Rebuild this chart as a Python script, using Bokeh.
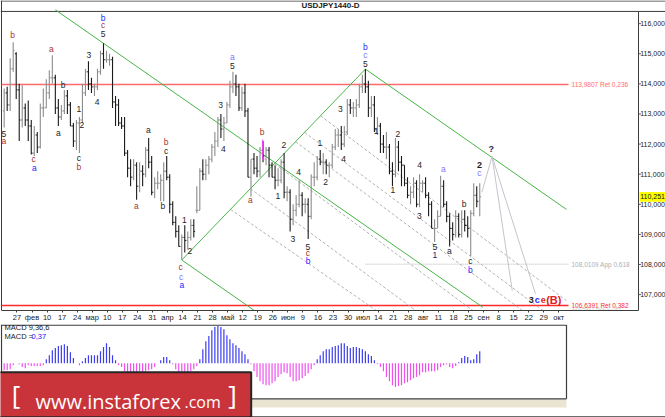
import numpy as np
import pandas as pd
from bokeh.plotting import figure
from bokeh.models import Range1d, FixedTicker, ColumnDataSource
from bokeh.layouts import column
from bokeh.embed import file_html
from bokeh.resources import INLINE
from bokeh.core.properties import value

# ---------------------------------------------------------------- data
trade_days = pd.bdate_range("2017-01-24", "2017-09-01")      # daily bars
day_k = np.arange(len(trade_days)) - 3                          # 27 Jan 2017 -> 0

bar_open = [113.10,113.70,113.30,114.50,115.00,113.80,112.80,113.20,112.80,112.60,111.70,112.30,111.90,113.20,
    113.20,113.70,114.20,114.20,113.20,112.90,113.10,113.60,113.30,112.60,112.10,112.70,112.80,113.70,
    114.40,114.00,113.90,113.90,114.40,115.00,114.80,114.80,114.80,113.40,113.30,112.70,112.60,111.70,
    111.20,110.90,111.30,110.60,111.10,111.00,111.80,111.40,110.40,110.70,110.70,110.80,111.10,110.90,
    110.00,109.40,109.10,108.60,108.90,108.80,108.90,109.30,109.80,109.80,111.10,111.00,111.30,111.50,
    111.90,112.10,112.80,112.50,112.70,113.30,113.90,114.00,113.90,113.20,113.70,113.10,110.90,111.50,
    111.20,111.10,111.80,111.60,111.80,111.30,110.90,110.80,110.80,111.40,110.40,110.40,109.50,109.80,
    110.00,110.30,110.00,110.00,109.60,110.90,110.90,111.50,111.40,111.40,111.30,111.30,111.90,112.30,
    112.30,112.00,112.40,113.30,113.20,113.20,113.30,113.90,114.00,113.90,113.20,113.30,112.50,112.60,
    112.00,111.90,111.90,111.10,111.00,111.90,111.40,111.30,110.70,110.30,110.40,110.70,110.00,110.70,
    110.70,110.30,110.00,109.20,109.20,109.60,110.60,110.00,109.60,109.20,109.00,109.60,109.00,109.50,
    109.30,109.20,109.70,110.30,110.10]
bar_high = [113.85,113.90,114.85,115.38,115.05,114.00,113.95,113.35,113.45,112.80,112.60,112.40,113.35,113.85,
    114.15,114.45,114.95,114.30,113.50,113.30,113.80,113.80,113.40,112.70,112.80,112.90,114.00,114.50,
    114.75,114.20,114.00,114.50,115.10,115.35,115.10,115.00,114.90,113.60,113.50,112.90,112.90,111.80,
    111.50,111.50,111.40,111.40,111.30,111.90,112.20,111.60,110.90,111.10,111.00,111.40,111.60,111.00,
    110.10,109.60,109.30,109.00,109.30,109.10,109.50,109.50,110.60,111.20,111.50,111.50,111.60,112.00,
    112.40,112.90,113.00,112.90,113.40,114.10,114.40,114.30,114.00,113.90,114.00,113.20,111.50,111.70,
    111.60,111.90,112.10,111.90,111.90,111.40,111.30,111.20,111.50,111.70,110.60,110.50,110.00,110.30,
    110.80,110.40,110.20,110.20,111.00,111.40,111.60,111.80,111.70,111.50,111.40,112.00,112.50,112.50,
    112.60,112.60,113.50,113.50,113.40,113.50,114.00,114.30,114.49,114.10,113.60,113.60,112.90,112.70,
    112.30,112.40,112.00,111.40,112.20,112.10,111.60,111.30,110.90,110.60,110.90,110.80,111.00,110.80,
    110.90,110.40,110.10,109.50,109.80,110.95,110.80,110.10,109.70,109.40,109.80,109.70,109.80,109.80,
    109.60,109.80,110.70,110.60,110.70]
bar_low = [112.55,113.10,113.10,114.40,113.50,112.10,112.55,112.60,112.10,111.65,111.60,111.70,111.85,112.90,
    113.20,113.50,114.00,113.00,112.60,112.80,113.00,113.00,112.60,111.90,111.80,111.70,112.70,113.60,
    113.80,113.70,113.60,113.80,114.30,114.50,114.70,114.60,113.20,112.60,112.60,112.50,111.60,110.90,
    110.60,110.80,110.15,110.40,110.60,110.90,111.20,110.30,110.20,110.50,110.10,110.10,110.80,109.70,
    109.30,108.90,108.60,108.15,108.40,108.50,108.80,108.90,109.70,109.80,110.80,110.80,111.00,111.40,
    111.60,111.90,112.20,112.10,112.70,113.20,113.70,113.60,113.10,113.10,112.90,110.90,110.25,111.00,
    110.90,110.90,111.40,111.30,110.90,110.90,110.50,110.60,110.70,110.20,110.10,109.10,109.30,109.60,
    109.90,109.60,109.70,108.85,109.50,110.60,110.80,111.30,111.00,111.00,110.90,111.20,111.80,111.90,
    111.80,111.90,112.30,113.00,112.90,112.90,113.20,113.70,113.70,112.90,112.90,112.40,112.30,111.70,
    111.70,111.50,111.00,110.60,110.90,111.10,110.60,110.60,110.20,110.00,110.20,109.90,109.90,110.40,
    110.20,109.60,109.20,108.75,109.20,109.60,109.90,109.40,108.60,108.80,108.90,108.90,108.90,109.10,
    108.90,108.27,109.60,109.90,109.60]
bar_close = [113.70,113.30,114.50,115.10,113.80,112.80,113.20,112.80,112.60,111.70,112.30,111.90,113.20,113.20,
    113.70,114.20,114.20,113.20,112.90,113.10,113.60,113.30,112.60,112.10,112.70,112.80,113.70,114.40,
    114.00,113.90,113.90,114.40,115.00,114.80,114.80,114.80,113.40,113.30,112.70,112.60,111.70,111.20,
    110.90,111.30,110.60,111.10,111.00,111.80,111.40,110.40,110.70,110.70,110.80,111.10,110.90,110.00,
    109.40,109.10,108.60,108.90,108.80,108.90,109.30,109.10,109.80,111.10,111.00,111.30,111.50,111.90,
    112.10,112.80,112.50,112.70,113.30,113.90,114.00,113.90,113.20,113.70,113.10,110.90,111.50,111.20,
    111.10,111.80,111.60,111.80,111.30,110.90,110.80,110.80,111.40,110.40,110.40,109.50,109.80,110.00,
    110.30,110.00,110.00,109.60,110.90,110.90,111.50,111.40,111.40,111.30,111.30,111.90,112.30,112.30,
    112.00,112.40,113.30,113.20,113.20,113.30,113.90,114.00,113.90,113.20,113.30,112.50,112.60,112.00,
    111.90,111.90,111.10,111.00,111.90,111.40,111.30,110.70,110.30,110.40,110.70,110.00,110.70,110.70,
    110.30,110.00,109.20,109.20,109.60,110.60,110.00,109.60,109.20,109.00,109.60,109.00,109.50,109.30,
    109.20,109.70,110.30,110.10,110.25]

macd_hist = [-0.22,-0.22,-0.19,-0.06,0.00,-0.03,-0.12,-0.16,-0.06,-0.09,-0.09,-0.09,-0.09,-0.06,
    0.12,0.25,0.40,0.47,0.53,0.56,0.59,0.53,0.34,0.16,
    0.00,-0.06,0.06,0.16,0.25,0.25,0.25,0.25,0.37,0.50,0.62,0.50,0.25,0.09,
    -0.06,-0.12,-0.25,-0.28,-0.28,-0.28,-0.28,-0.25,-0.28,-0.25,-0.22,-0.19,-0.12,
    0.00,0.09,0.19,0.19,0.09,
    -0.03,-0.19,-0.28,-0.28,-0.28,-0.28,-0.25,-0.19,-0.09,
    0.12,0.43,0.68,0.84,1.02,1.12,1.15,1.12,1.05,0.87,0.74,0.62,0.56,0.47,0.37,0.28,0.12,
    -0.03,-0.25,-0.43,-0.56,-0.65,-0.68,-0.68,-0.62,-0.56,-0.43,-0.34,-0.28,-0.31,-0.43,-0.56,-0.56,
    -0.53,-0.47,-0.40,-0.31,-0.19,-0.06,
    0.12,0.25,0.37,0.43,0.43,0.50,0.53,0.56,0.62,0.62,0.53,0.47,0.50,0.50,0.47,0.43,0.37,0.28,0.22,0.09,
    -0.03,-0.12,-0.25,-0.43,-0.56,-0.68,-0.74,-0.71,-0.68,-0.62,-0.59,-0.53,-0.47,-0.43,-0.37,-0.28,
    -0.28,-0.25,-0.25,-0.25,-0.22,-0.12,-0.06,-0.03,-0.12,-0.16,-0.09,
    0.03,0.16,0.22,0.19,0.09,0.12,0.28,0.37]

# weekly (Friday) ticks, bar index of each Friday, Russian labels
tick_k = list(range(0, 181, 5))
tick_labels = ["27","фев","10","17","24","мар","10","17","24","31","апр","14","21","28",
               "май","12","19","26","июн","9","16","23","30","июл","14","21","28",
               "авг","11","18","25","сен","8","15","22","29","окт"]

price_ticks = [107, 108, 109, 110, 111, 112, 113, 114, 115, 116]
price_tick_labels = ["107,000","108,000","109,000","110,000","111,000","112,000",
                     "113,000","114,000","115,000","116,000"]
last_price = 110.251
last_price_label = "110,251"

# Fibonacci levels
ret_levels = [113.9807, 106.6391]
ret_texts = ["113,9807 Ret 0,236", "106,6391 Ret 0,382"]
ret_colors = ["#ff6a6a", "#ff2a2a"]
app_level = 108.0109
app_text = "108,0109 App 0,618"
app2_level = 106.4917
app2_text = "106,4917 App 0,764"

# channel lines (bar index, price)
green_k0 = [14.0, 56.0, 56.0, 117.0]
green_p0 = [116.46, 108.15, 108.15, 114.49]
green_k1 = [156.0, 81.0, 117.0, 183.8]
green_p1 = [106.58, 106.41, 114.49, 109.83]

dash_k0 = [72.2, 78.8, 86.8, 93.8, 96.8, 102.1]
dash_p0 = [109.83, 110.52, 111.35, 112.08, 112.39, 112.94]
dash_k1 = [183.8, 183.8, 183.8, 183.8, 183.8, 183.8]
dash_p1 = [102.09, 102.78, 104.17, 105.38, 105.89, 106.80]

proj_k0 = [155.7, 159.1, 159.1]
proj_p0 = [110.40, 111.59, 111.59]
proj_k1 = [159.1, 165.8, 173.5]
proj_p1 = [111.59, 107.13, 107.03]

# highlighted bar
mark_k = 82.9
mark_hi = 112.15
mark_lo = 111.50

# wave labels
K, R, B, L, N = "#1e1e1e", "#a8352e", "#2626ff", "#7a7aff", "#1a1a7a"
wave_text = ["5","a","b","c","a","a","b","a","1","2","c","b","3","4","5","c","b",
             "a","a","b","c","b","1","2","c","c","a","a","5","3","4",
             "b","a","2","1","4","3","5","c","b","1","2","3","4",
             "b","c","5","1","2","1","4","3","a","5","1","a","b","c","b","c"]
wave_k = [-3.1,-3.1,-0.2,6.8,7.0,12.7,16.6,15.0,21.8,22.8,21.8,21.8,25.1,27.9,29.9,29.9,29.9,
          44.9,40.9,50.8,50.8,49.7,56.9,58.7,55.6,55.8,56.0,72.8,72.8,68.9,69.8,
          82.7,78.8,89.9,87.9,94.8,92.9,97.9,97.9,98.0,101.9,103.8,108.7,109.8,
          117.0,117.0,117.0,120.6,127.8,126.1,135.0,134.9,142.9,140.1,140.1,144.9,149.8,151.9,151.9,154.9]
wave_p = [112.32,112.09,115.62,111.49,111.21,115.17,113.96,112.37,113.18,112.62,111.55,111.25,114.95,113.41,115.67,115.97,116.18,
          112.46,109.95,112.06,111.76,109.93,109.49,108.44,107.91,107.57,107.31,114.90,114.60,113.30,111.82,
          112.40,110.15,111.96,110.28,111.08,108.85,108.59,108.39,108.11,112.02,110.73,113.16,111.51,
          115.23,114.95,114.65,112.45,112.35,110.48,111.32,109.62,111.16,108.57,108.32,108.46,110.00,108.10,107.83,111.03]
wave_color = [K,R,R,R,B,R,K,K,K,K,K,R,K,K,K,R,B,
              K,R,R,K,K,K,K,R,L,B,L,K,K,K,
              R,R,K,K,K,K,K,R,B,K,K,K,K,
              B,L,K,K,K,K,K,K,L,K,N,K,K,K,B,L]

bold_text = ["2", "?", "3", "c", "e"]
bold_k = [154.9, 158.8, 172.1, 174.1, 176.1]
bold_p = [111.32, 111.84, 106.81, 106.81, 106.81]
bold_color = [K, "#2a2a55", K, B, "#e02020"]
big_text = "(B)"
big_k = 179.6
big_p = 106.83

# ---------------------------------------------------------------- layout constants
W = 665
PX_PER_BAR = 3.01
X0_PX = 12.7                     # canvas x of bar 0
K_LEFT = -X0_PX / PX_PER_BAR
K_RIGHT = (W - X0_PX) / PX_PER_BAR
def k_at(px):
    return (px - X0_PX) / PX_PER_BAR

AXIS_K = k_at(638.0)
EDGE_K = k_at(1.0)
LEVEL_END_K = k_at(568.0)
LEVEL_TXT_K = k_at(571.0)
PANEL_RIGHT_K = k_at(566.0)
P_TOP, P_BOT = 116.769, 106.472          # price at canvas y = 0 and y = 312
P_LINE = 116.406                          # chart top line (y = 11)
P_EDGE = 116.752                          # window edge (y = 0.5)
FONT = value("Liberation Sans")

x_rng = Range1d(K_LEFT, K_RIGHT)

# ---------------------------------------------------------------- price panel
p = figure(width=W, height=324, x_range=x_rng, y_range=Range1d(P_BOT, P_TOP),
           output_backend="svg", toolbar_location=None, y_axis_location=None,
           min_border_left=0, min_border_right=0, min_border_top=0, min_border_bottom=12)
p.grid.grid_line_color = None
p.outline_line_color = None
p.background_fill_color = "white"
p.border_fill_color = "white"

ax = p.xaxis[0]
tick_pos = [k + 1.25 for k in tick_k]
ax.ticker = FixedTicker(ticks=tick_pos)
ax.major_label_overrides = {t: lab for t, lab in zip(tick_pos, tick_labels)}
ax.bounds = (EDGE_K, AXIS_K)
ax.minor_tick_line_color = None
ax.major_tick_in = 0
ax.major_tick_out = 2
ax.major_label_standoff = 0
ax.major_label_text_font_size = "7.5px"
ax.major_label_text_font = "Liberation Sans"
ax.major_label_text_color = "#222222"
ax.axis_line_color = "#3c3c3c"
ax.major_tick_line_color = "#3c3c3c"

# window / chart borders
p.segment(x0=[K_LEFT, K_LEFT, EDGE_K, AXIS_K], y0=[P_EDGE, P_LINE, P_BOT, P_BOT],
          x1=[K_RIGHT, K_RIGHT, EDGE_K, AXIS_K], y1=[P_EDGE, P_LINE, P_TOP, P_LINE],
          line_color="#3c3c3c", line_width=1)

# levels
for lvl, txt, col in zip(ret_levels, ret_texts, ret_colors):
    p.segment(x0=[EDGE_K], y0=[lvl], x1=[LEVEL_END_K], y1=[lvl], line_color=col, line_width=1.4)
    p.text(x=[LEVEL_TXT_K], y=[lvl], text=[txt], text_font=FONT, text_font_size="6.5px",
           text_color=col, text_baseline="middle")
p.segment(x0=[117.0], y0=[app_level], x1=[LEVEL_END_K], y1=[app_level], line_color="#b8b8b8",
          line_width=1, line_dash="1 1")
p.text(x=[LEVEL_TXT_K], y=[app_level], text=[app_text], text_font=FONT, text_font_size="6.5px",
       text_color="#b0b0b0", text_baseline="middle")
p.text(x=[LEVEL_TXT_K], y=[app2_level + 0.065], text=[app2_text], text_font=FONT,
       text_font_size="5.5px", text_color="#cfcfcf", text_baseline="middle")

# pitchfork dashed lines
p.segment(x0=dash_k0, y0=dash_p0, x1=dash_k1, y1=dash_p1, line_color="#b4b4b4",
          line_width=1, line_dash="3 2")
# channel lines
p.segment(x0=green_k0, y0=green_p0, x1=green_k1, y1=green_p1, line_color="#48b448", line_width=1)
# projection
p.segment(x0=proj_k0, y0=proj_p0, x1=proj_k1, y1=proj_p1, line_color="#c4c4cc", line_width=1)

# OHLC bars
k_arr = np.array(day_k, dtype=float)
o = np.array(bar_open); h = np.array(bar_high); lo = np.array(bar_low); c = np.array(bar_close)
cols = np.where(c >= o, "#8c8c8c", "#1a1a1a")
src = ColumnDataSource(dict(k=k_arr, kl=k_arr - 0.45, kr=k_arr + 0.45, o=o, h=h, l=lo, c=c, col=cols))
p.segment(x0="k", y0="l", x1="k", y1="h", line_color="col", line_width=1.1, source=src)
p.segment(x0="kl", y0="o", x1="k", y1="o", line_color="col", line_width=1, source=src)
p.segment(x0="k", y0="c", x1="kr", y1="c", line_color="col", line_width=1, source=src)

# highlighted bar
p.segment(x0=[mark_k], y0=[mark_lo], x1=[mark_k], y1=[mark_hi], line_color="#ff33ff", line_width=1)
p.segment(x0=[mark_k], y0=[mark_lo], x1=[mark_k + 0.6], y1=[mark_lo], line_color="#ff33ff", line_width=1)

# wave labels
wsrc = ColumnDataSource(dict(x=wave_k, y=wave_p, t=wave_text, c=wave_color))
p.text(x="x", y="y", text="t", text_color="c", source=wsrc, text_font=FONT,
       text_font_size="8.5px", text_align="center", text_baseline="middle")
bsrc = ColumnDataSource(dict(x=bold_k, y=bold_p, t=bold_text, c=bold_color))
p.text(x="x", y="y", text="t", text_color="c", source=bsrc, text_font=FONT,
       text_font_size="9px", text_font_style="bold", text_align="center", text_baseline="middle")
p.text(x=[big_k], y=[big_p], text=[big_text], text_color="#e02020", text_font=FONT,
       text_font_size="11px", text_font_style="bold", text_align="center", text_baseline="middle")

# title
p.text(x=[k_at(330.0)], y=[116.59], text=["USDJPY1440-D"], text_font=FONT,
       text_font_size="8px", text_font_style="bold", text_color="#1a1a1a",
       text_align="center", text_baseline="middle")

# right price scale
p.segment(x0=[AXIS_K] * len(price_ticks), y0=price_ticks, x1=[AXIS_K + 0.8] * len(price_ticks),
          y1=price_ticks, line_color="#555555", line_width=1)
p.text(x=[AXIS_K + 0.55] * len(price_ticks), y=price_ticks, text=price_tick_labels, text_font=FONT,
       text_font_size="7px", text_color="#222222", text_baseline="middle")
p.quad(left=[AXIS_K + 0.3], right=[K_RIGHT + 2], bottom=[last_price - 0.17], top=[last_price + 0.16],
       fill_color="#ffff00", line_color=None)
p.text(x=[AXIS_K + 0.55], y=[last_price], text=[last_price_label], text_font=FONT,
       text_font_size="7px", text_color="#111111", text_baseline="middle")

# ---------------------------------------------------------------- MACD panel
M_TOP, M_BOT = 1.1997, -1.6833
m = figure(width=W, height=93, x_range=x_rng, y_range=Range1d(M_BOT, M_TOP),
           output_backend="svg", toolbar_location=None, x_axis_location=None, y_axis_location=None,
           min_border_left=0, min_border_right=0, min_border_top=0, min_border_bottom=0)
m.grid.grid_line_color = None
m.outline_line_color = None
m.background_fill_color = "white"
m.border_fill_color = "white"

mh = np.array(macd_hist)
mcol = np.where(mh >= 0, "#3c3cf0", "#f050f0")
msrc = ColumnDataSource(dict(k=k_arr, v=mh, z=np.zeros_like(mh), col=mcol))
m.segment(x0="k", y0="z", x1="k", y1="v", line_color="col", line_width=1.2, source=msrc)

# panel frame & beige strip
m.quad(left=[EDGE_K], right=[PANEL_RIGHT_K], top=[-1.125], bottom=[-1.373],
       fill_color="#e9e5d2", line_color=None)
m.segment(x0=[EDGE_K, EDGE_K, PANEL_RIGHT_K, EDGE_K, K_LEFT],
          y0=[1.181, -1.104, -1.104, M_TOP, -1.660],
          x1=[PANEL_RIGHT_K, PANEL_RIGHT_K, PANEL_RIGHT_K, EDGE_K, K_RIGHT],
          y1=[1.181, -1.104, 1.181, M_BOT, -1.660],
          line_color="#3c3c3c", line_width=1.2)

m.text(x=[k_at(4.0)], y=[1.10], text=["MACD 9,36,6"], text_font=FONT, text_font_size="7.5px",
       text_color="#1a1a1a", text_baseline="middle")
m.text(x=[k_at(4.0)], y=[0.84], text=["MACD ="], text_font=FONT, text_font_size="7.5px",
       text_color="#1a1a1a", text_baseline="middle")
m.text(x=[k_at(31.0)], y=[0.84], text=["0,37"], text_font=FONT, text_font_size="7.5px",
       text_color="#2020ff", text_baseline="middle")

# watermark
m.quad(left=[K_LEFT - 3], right=[k_at(250.7)], top=[-0.279], bottom=[-1.674],
       fill_color="#c9333a", line_color="#262626", line_width=2)
WM = value("Open Sans")
m.text(x=[k_at(15.5)], y=[-0.97], text=["["], text_font=WM, text_font_size="26px", text_color="white",
       text_align="center", text_baseline="middle")
m.text(x=[k_at(35.0)], y=[-1.19], text=["www.instaforex"], text_font=WM, text_font_size="20px",
       text_color="white", text_baseline="alphabetic")
m.text(x=[k_at(184.0)], y=[-1.19], text=[".com"], text_font=WM, text_font_size="16px",
       text_color="white", text_baseline="alphabetic")
m.text(x=[k_at(232.0)], y=[-0.97], text=["]"], text_font=WM, text_font_size="26px", text_color="white",
       text_align="center", text_baseline="middle")

layout = column(p, m, spacing=0)
open("out.html", "w").write(file_html(layout, INLINE))
